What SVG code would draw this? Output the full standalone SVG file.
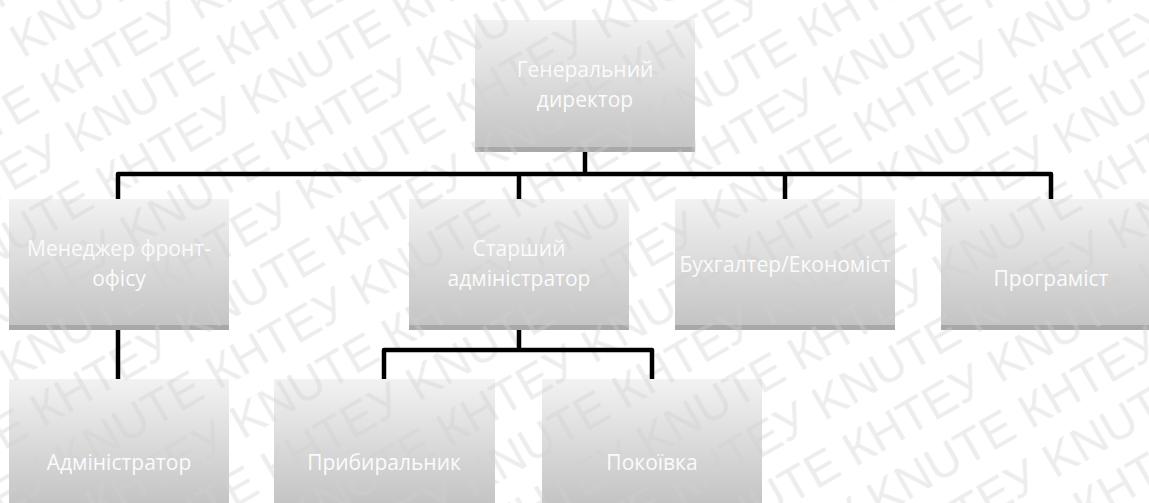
<svg xmlns="http://www.w3.org/2000/svg" width="1149" height="503" viewBox="0 0 1149 503">
<defs>
<style>
.lbl{font-family:"Open Sans","Noto Sans","Liberation Sans",sans-serif;font-size:21px;fill:#fbfbfb;text-anchor:middle}
.wm{font-family:"Liberation Sans","DejaVu Sans",sans-serif;font-size:48px;fill:#cfcfcf}
.box{fill:url(#g)}
.strip{fill:#a8a8a8}
.wmfill{fill:url(#wm);opacity:0.38}
.conn{fill:none;stroke:#000;stroke-width:4.5;stroke-linejoin:round}
</style>
<linearGradient id="g" x1="0" y1="0" x2="0" y2="1">
<stop offset="0" stop-color="#f2f2f2"/>
<stop offset="1" stop-color="#c2c2c2"/>
</linearGradient>
<pattern id="wm" patternUnits="userSpaceOnUse" width="342" height="110" patternTransform="translate(0,20) rotate(-30)">
<text class="wm" x="0" y="45" textLength="328" lengthAdjust="spacingAndGlyphs">KNUTE КНТЕУ</text>
<text class="wm" x="-171" y="100" textLength="328" lengthAdjust="spacingAndGlyphs">KNUTE КНТЕУ</text>
<text class="wm" x="171" y="100" textLength="328" lengthAdjust="spacingAndGlyphs">KNUTE КНТЕУ</text>
</pattern>
</defs>
<rect width="1149" height="503" fill="#ffffff"/>
<rect width="1149" height="503" class="wmfill"/>

<g id="node-gen">
<rect class="box" x="475" y="20" width="220" height="132"/>
<rect class="strip" x="475" y="147" width="220" height="5"/>
<rect class="wmfill" x="475" y="20" width="220" height="132"/>
<text class="lbl" x="585" y="77">Генеральний</text>
<text class="lbl" x="585" y="107">директор</text>
</g>

<g id="node-front">
<rect class="box" x="9" y="199" width="220" height="131"/>
<rect class="strip" x="9" y="325" width="220" height="5"/>
<rect class="wmfill" x="9" y="199" width="220" height="131"/>
<text class="lbl" x="119" y="256">Менеджер фронт-</text>
<text class="lbl" x="119" y="286">офісу</text>
</g>

<g id="node-senior">
<rect class="box" x="409" y="199" width="220" height="131"/>
<rect class="strip" x="409" y="325" width="220" height="5"/>
<rect class="wmfill" x="409" y="199" width="220" height="131"/>
<text class="lbl" x="519" y="256">Старший</text>
<text class="lbl" x="519" y="286">адміністратор</text>
</g>

<g id="node-acc">
<rect class="box" x="675" y="199" width="220" height="131"/>
<rect class="strip" x="675" y="325" width="220" height="5"/>
<rect class="wmfill" x="675" y="199" width="220" height="131"/>
<text class="lbl" x="785" y="272">Бухгалтер/Економіст</text>
</g>

<g id="node-prog">
<rect class="box" x="941" y="199" width="220" height="131"/>
<rect class="strip" x="941" y="325" width="220" height="5"/>
<rect class="wmfill" x="941" y="199" width="220" height="131"/>
<text class="lbl" x="1051" y="286">Програміст</text>
</g>

<g id="node-admin">
<rect class="box" x="9" y="379" width="220" height="130"/>
<rect class="wmfill" x="9" y="379" width="220" height="130"/>
<text class="lbl" x="119" y="470">Адміністратор</text>
</g>

<g id="node-clean">
<rect class="box" x="274" y="379" width="221" height="130"/>
<rect class="wmfill" x="274" y="379" width="221" height="130"/>
<text class="lbl" x="384" y="470">Прибиральник</text>
</g>

<g id="node-maid">
<rect class="box" x="542" y="379" width="220" height="130"/>
<rect class="wmfill" x="542" y="379" width="220" height="130"/>
<text class="lbl" x="652" y="470">Покоївка</text>
</g>

<g id="connectors">
<path class="conn" d="M585,152 V174"/>
<path class="conn" d="M118,199 V174 H1051 V199"/>
<path class="conn" d="M519,174 V199"/>
<path class="conn" d="M785,174 V199"/>
<path class="conn" d="M118,330 V379"/>
<path class="conn" d="M519,330 V350"/>
<path class="conn" d="M384,379 V350 H652 V379"/>
</g>
</svg>
